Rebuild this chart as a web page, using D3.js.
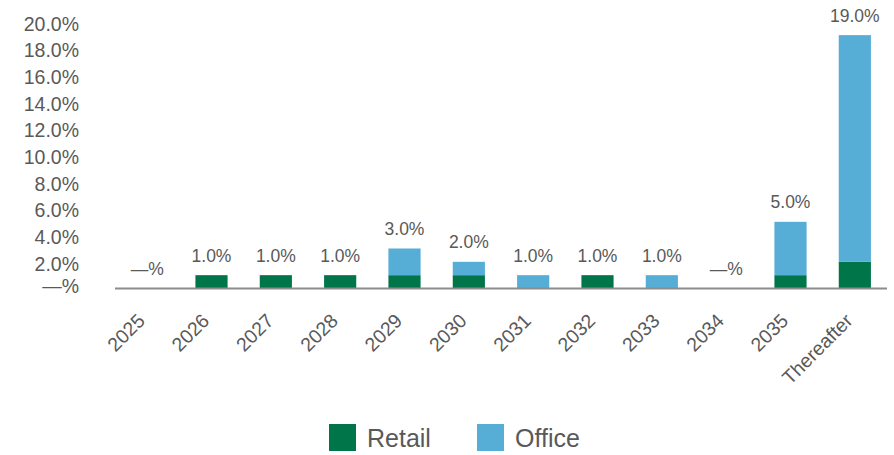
<!DOCTYPE html>
<head>
<meta charset="utf-8">
<script src="https://d3js.org/d3.v7.min.js"></script>
<style>
body { margin: 0; background: #fff; font-family: "Liberation Sans", Arial, sans-serif; }
svg { display: block; }
.tick text { fill: #595959; }
</style>
</head>
<body>
<script>

const years = ["2025", "2026", "2027", "2028", "2029", "2030", "2031", "2032", "2033", "2034", "2035", "Thereafter"];
const retail = [0, 1, 1, 1, 1, 1, 0, 1, 0, 0, 1, 2];
const office = [0, 0, 0, 0, 2, 1, 1, 0, 1, 0, 4, 17];
const totals = ["—%", "1.0%", "1.0%", "1.0%", "3.0%", "2.0%", "1.0%", "1.0%", "1.0%", "—%", "5.0%", "19.0%"];
const yTicks = [0, 2, 4, 6, 8, 10, 12, 14, 16, 18, 20];

const width = 894, height = 455;
const colors = {Retail: "#00754A", Office: "#56AED6"};

const svg = d3.select("body").append("svg")
  .attr("width", width)
  .attr("height", height);

const x = d3.scaleBand()
  .domain(years)
  .range([115, 887])
  .paddingInner(0.5)
  .paddingOuter(0.25);

const y = d3.scaleLinear()
  .domain([0, 20])
  .range([288.5, 21.8]);

const rows = years.map((d, i) => ({year: d, Retail: retail[i], Office: office[i], label: totals[i]}));
const stack = d3.stack().keys(["Retail", "Office"])(rows);

// y axis labels only
const yAxis = svg.append("g")
  .attr("transform", "translate(79,0)")
  .call(d3.axisLeft(y).tickValues(yTicks).tickSize(0).tickPadding(0)
    .tickFormat(d => d === 0 ? "—%" : d.toFixed(1) + "%"));
yAxis.select(".domain").remove();
yAxis.selectAll("text")
  .attr("dy", d => d === 0 ? "0.2em" : "0.42em")
  .style("font-size", "19.5px")
  .style("font-family", "Liberation Sans, Arial, sans-serif");

// bars
svg.append("g").selectAll("g")
  .data(stack)
  .join("g")
    .attr("fill", s => colors[s.key])
  .selectAll("rect")
  .data(s => s)
  .join("rect")
    .attr("x", d => x(d.data.year))
    .attr("width", x.bandwidth())
    .attr("y", d => y(d[1]))
    .attr("height", d => y(d[0]) - y(d[1]));

// baseline
svg.append("line")
  .attr("x1", 115).attr("x2", 887)
  .attr("y1", y(0)).attr("y2", y(0))
  .attr("stroke", "#8c8c8c")
  .attr("stroke-width", 2);

// totals above bars
svg.append("g").selectAll("text")
  .data(rows)
  .join("text")
    .attr("x", d => x(d.year) + x.bandwidth() / 2)
    .attr("y", d => y(d.Retail + d.Office) - 13.5)
    .attr("text-anchor", "middle")
    .attr("fill", "#595959")
    .style("font-size", "17.5px")
    .text(d => d.label);

// x axis labels, rotated
svg.append("g").selectAll("text")
  .data(years)
  .join("text")
    .attr("transform", d => "translate(" + (x(d) + x.bandwidth() / 2 - 1) + ",322) rotate(-45)")
    .attr("text-anchor", "end")
    .attr("fill", "#595959")
    .style("font-size", "19.5px")
    .text(d => d);

// legend
const legend = svg.append("g").selectAll("g")
  .data([["Retail", 329], ["Office", 477]])
  .join("g")
    .attr("transform", d => "translate(" + d[1] + ",424)");
legend.append("rect")
  .attr("width", 27).attr("height", 27)
  .attr("fill", d => colors[d[0]]);
legend.append("text")
  .attr("x", 38).attr("y", 13.5)
  .attr("dy", "0.36em")
  .attr("fill", "#595959")
  .style("font-size", "25px")
  .text(d => d[0]);

</script>
</body>
